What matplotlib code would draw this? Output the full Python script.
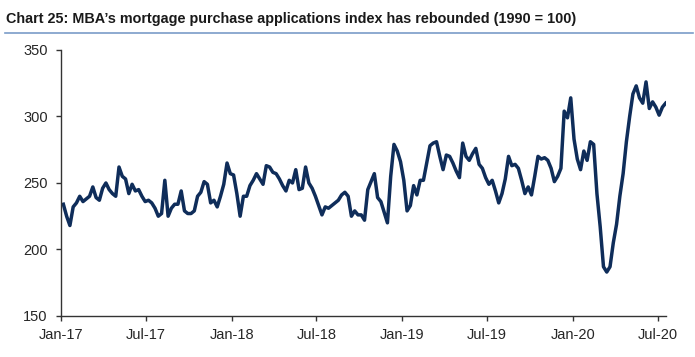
import matplotlib
matplotlib.use("Agg")
import matplotlib.pyplot as plt
from matplotlib.lines import Line2D
import pandas as pd

# weekly MBA purchase index (Jan-17 .. Jul-20)
start_date = "2017-01-06"
values = [
    234, 225, 218, 232, 235, 240, 236, 238, 240, 247,
    239, 237, 246, 250, 245, 242, 240, 262, 255, 253,
    242, 249, 244, 245, 240, 236, 237, 235, 231, 225,
    227, 252, 225, 231, 234, 234, 244, 229, 227, 227,
    229, 240, 243, 251, 249, 235, 237, 232, 240, 249,
    265, 257, 256, 242, 225,
    240, 240, 248, 252, 257, 253, 249, 263, 262, 258,
    257, 253, 248, 244, 252, 250, 260, 245, 246, 262,
    250, 246, 240, 233, 226, 232,
    231, 233, 235, 237, 241, 243, 240, 225, 229, 226,
    226, 222, 245, 251, 257, 239, 236, 228, 220, 255,
    279, 274, 266, 252, 229, 233, 248, 241, 252,
    252, 265, 278, 280, 281, 270, 260, 271, 270, 265,
    259, 254, 280, 270, 267, 272, 276, 264, 261, 254,
    249, 252, 244, 235, 242, 253, 270, 263, 264, 261,
    252, 242, 247, 241, 255, 270, 268, 269, 267, 261,
    251, 255, 261, 304, 299, 314, 283, 268, 260, 274,
    267, 281, 279, 242, 217, 187, 183, 187, 205, 219,
    240, 257, 281, 300, 317, 323, 314, 310, 326, 306,
    311, 307, 301, 307, 310,
]
dates = pd.date_range(start_date, periods=len(values), freq="7D")

tick_dates = pd.date_range("2017-01-01", "2020-07-01", freq="6MS")
tick_labels = [d.strftime("%b-%y") for d in tick_dates]
y_ticks = [150, 200, 250, 300, 350]

title = "Chart 25: MBA\u2019s mortgage purchase applications index has rebounded (1990 = 100)"

fig = plt.figure(figsize=(6.95, 3.57), dpi=100)
ax = fig.add_axes([0.0878, 0.115, 0.870, 0.745])

ax.plot(dates, values, color="#0f2d5a", lw=2.5, solid_joinstyle="round")

ax.set_ylim(150, 350)
ax.set_yticks(y_ticks)
ax.set_xlim(pd.Timestamp("2017-01-01"), pd.Timestamp("2020-07-17"))
ax.set_xticks(tick_dates)
ax.set_xticklabels(tick_labels)

for s in ["top", "right"]:
    ax.spines[s].set_visible(False)
for s in ["left", "bottom"]:
    ax.spines[s].set_color("#333333")
    ax.spines[s].set_linewidth(1.0)
ax.tick_params(length=3.5, width=1.0, color="#333333", labelcolor="#262626",
               labelsize=10.5)
ax.tick_params(axis="y", pad=6)
ax.tick_params(axis="x", pad=5)
for lab in ax.get_xticklabels() + ax.get_yticklabels():
    lab.set_family(["Liberation Sans", "DejaVu Sans"])

t = fig.text(0.008, 0.935, title, fontsize=11, fontweight="bold", color="#1a1a1a",
             family=["Liberation Sans", "DejaVu Sans"], va="baseline", ha="left")
# shrink/grow the title so it spans about the same width as the original
renderer = fig.canvas.get_renderer()
w = t.get_window_extent(renderer).width
t.set_fontsize(11 * 572 / w)

fig.add_artist(Line2D([0.007, 0.997], [0.908, 0.908], transform=fig.transFigure,
                      color="#7a9cc8", lw=1.2))

fig.savefig("out.png", dpi=100)
